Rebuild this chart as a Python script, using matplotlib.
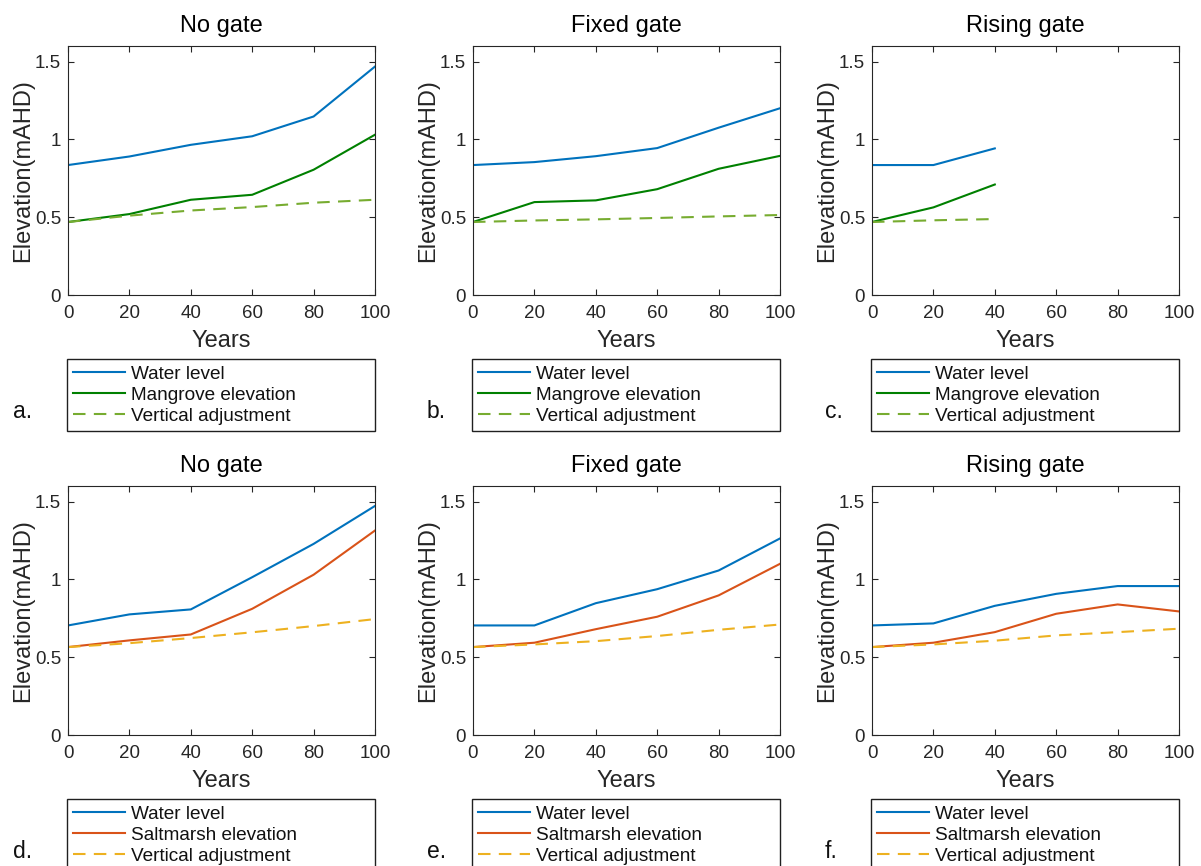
import matplotlib.pyplot as plt

plt.rcParams['font.family'] = ['Liberation Sans', 'DejaVu Sans']

W, H = 1201, 866

years = [0, 20, 40, 60, 80, 100]
years_short = [0, 20, 40]

titles = ['No gate', 'Fixed gate', 'Rising gate']
panel_tags = ['a.', 'b.', 'c.', 'd.', 'e.', 'f.']

# mangrove runs (top row)
water_mg = [
    [0.835, 0.89, 0.965, 1.02, 1.147, 1.468],
    [0.835, 0.854, 0.892, 0.944, 1.075, 1.20],
    [0.835, 0.835, 0.942],
]
mangrove = [
    [0.469, 0.52, 0.612, 0.644, 0.805, 1.03],
    [0.469, 0.597, 0.608, 0.68, 0.811, 0.894],
    [0.469, 0.563, 0.71],
]
vadj_mg = [
    [0.469, 0.51, 0.543, 0.565, 0.593, 0.612],
    [0.469, 0.479, 0.486, 0.495, 0.505, 0.514],
    [0.469, 0.48, 0.488],
]

# saltmarsh runs (bottom row)
water_sm = [
    [0.704, 0.775, 0.807, 1.014, 1.228, 1.472],
    [0.704, 0.704, 0.847, 0.937, 1.057, 1.263],
    [0.704, 0.717, 0.83, 0.907, 0.957, 0.957],
]
saltmarsh = [
    [0.565, 0.608, 0.646, 0.811, 1.03, 1.314],
    [0.565, 0.593, 0.68, 0.76, 0.897, 1.10],
    [0.565, 0.593, 0.661, 0.779, 0.839, 0.794],
]
vadj_sm = [
    [0.565, 0.59, 0.623, 0.66, 0.70, 0.745],
    [0.565, 0.582, 0.603, 0.636, 0.676, 0.71],
    [0.565, 0.582, 0.606, 0.64, 0.661, 0.683],
]

blue = '#0072BD'
green = '#008000'
lgreen = '#77AC30'
red = '#D95319'
yellow = '#EDB120'
axcol = '#262626'

fig = plt.figure(figsize=(W / 100, H / 100), dpi=100)

# pixel layout
col_left = [68, 473, 872]
row_top = [46, 486]
ax_w, ax_h = 307, 249
leg_top = [359, 799]
tag_x = [13, 427, 825]
tag_y = [411, 851]


def make_axes(r, c):
    ax = fig.add_axes([col_left[c] / W, 1 - (row_top[r] + ax_h) / H,
                       ax_w / W, ax_h / H])
    ax.set_xlim(0, 100)
    ax.set_ylim(0, 1.6)
    ax.set_xticks(years)
    ax.set_yticks([0, 0.5, 1, 1.5])
    ax.set_yticklabels(['0', '0.5', '1', '1.5'])
    ax.tick_params(direction='in', length=4, width=0.8, colors=axcol,
                   labelsize=13.5, top=True, right=True, pad=5)
    ax.tick_params(axis='x', pad=7)
    for s in ax.spines.values():
        s.set_color(axcol)
        s.set_linewidth(0.8)
    ax.set_title(titles[c], fontsize=17, pad=10)
    ax.set_xlabel('Years', fontsize=17, color=axcol)
    ax.set_ylabel('Elevation(mAHD)', fontsize=17, color=axcol)
    ax.xaxis.set_label_coords(0.5, -35 / ax_h)
    ax.yaxis.set_label_coords(-34 / ax_w, 0.5)
    return ax


def add_legend(ax, r, c, handles):
    x0 = col_left[c] - 1
    leg = ax.legend(handles=handles, loc='upper left',
                    bbox_to_anchor=(x0 / W, 1 - leg_top[r] / H, (ax_w + 1) / W, 0),
                    bbox_transform=fig.transFigure, mode='expand',
                    borderaxespad=0, fontsize=13.7, handlelength=2.7,
                    handletextpad=0.35, labelspacing=0.2, borderpad=0.33,
                    fancybox=False, framealpha=1, edgecolor='#202020')
    leg.get_frame().set_linewidth(1.0)
    for t in leg.get_texts():
        t.set_color('#111111')


for c in range(3):
    ax = make_axes(0, c)
    xs = years if len(water_mg[c]) == 6 else years_short
    h1, = ax.plot(xs, water_mg[c], color=blue, lw=1.5, label='Water level')
    h2, = ax.plot(xs, mangrove[c], color=green, lw=1.5, label='Mangrove elevation')
    h3, = ax.plot(xs, vadj_mg[c], color=lgreen, lw=1.5, ls=(0, (6, 4)),
                  label='Vertical adjustment')
    add_legend(ax, 0, c, [h1, h2, h3])

    ax = make_axes(1, c)
    h1, = ax.plot(years, water_sm[c], color=blue, lw=1.5, label='Water level')
    h2, = ax.plot(years, saltmarsh[c], color=red, lw=1.5, label='Saltmarsh elevation')
    h3, = ax.plot(years, vadj_sm[c], color=yellow, lw=1.5, ls=(0, (6, 4)),
                  label='Vertical adjustment')
    add_legend(ax, 1, c, [h1, h2, h3])

for i, tag in enumerate(panel_tags):
    r, c = divmod(i, 3)
    fig.text(tag_x[c] / W, 1 - tag_y[r] / H, tag, fontsize=16.5,
             ha='left', va='center', color='#111111')

fig.savefig('out.png', dpi=100)
